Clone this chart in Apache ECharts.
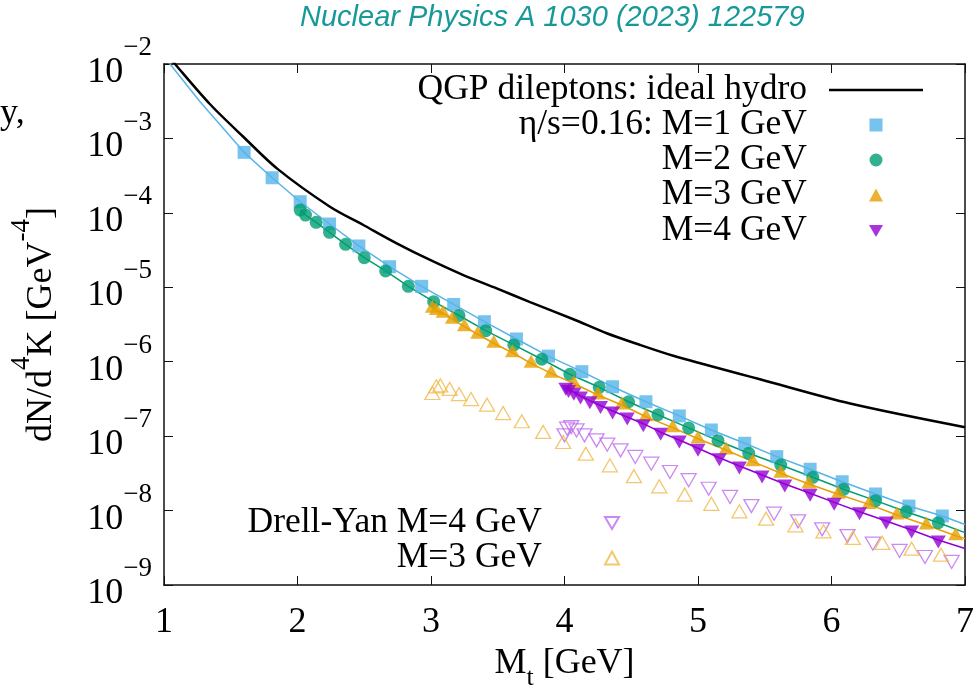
<!DOCTYPE html>
<html><head><meta charset="utf-8">
<script src="https://cdn.jsdelivr.net/npm/echarts@6/dist/echarts.min.js"></script>
<style>html,body{margin:0;padding:0;background:#fff}#c{width:979px;height:693px}</style>
</head><body><div id="c"></div>
<script>
// ---- data ----
const xTickValues = [1, 2, 3, 4, 5, 6, 7];
const yDecades = [-9, -8, -7, -6, -5, -4, -3, -2];

const idealHydro = [[1.0,1.5e-2],[1.082,1.0e-2],[1.345,2.88e-3],[1.59,1.07e-3],[1.85,3.9e-4],[2.243,1.21e-4],[2.493,6.87e-5],[2.743,3.9e-5],[2.993,2.33e-5],[3.242,1.46e-5],[3.492,9.68e-6],[3.742,6.31e-6],[4.066,3.72e-6],[4.316,2.41e-6],[4.566,1.68e-6],[4.815,1.2e-6],[5.065,9.04e-7],[5.315,6.84e-7],[5.464,5.81e-7],[6.14,2.75e-7],[7.0,1.32e-7]];

const visM1 = [[1.60,6.5e-4],[1.81,2.96e-4],[2.02,1.41e-4],[2.24,7.08e-5],[2.46,3.59e-5],[2.69,1.89e-5],[2.93,1.03e-5],[3.17,5.88e-6],[3.40,3.45e-6],[3.64,2.02e-6],[3.88,1.19e-6],[4.13,7.35e-7],[4.36,4.61e-7],[4.61,2.90e-7],[4.86,1.87e-7],[5.10,1.21e-7],[5.35,8.02e-8],[5.59,5.30e-8],[5.84,3.59e-8],[6.08,2.44e-8],[6.33,1.67e-8],[6.58,1.15e-8],[6.83,8.45e-9]];
const visM1Head = [[1.0,1.26e-2],[1.045,1.0e-2],[1.27,3.11e-3]];
const visM1Tail = [[7.0,6.5e-9]];

const visM2 = [[2.02,1.09e-4],[2.06,9.35e-5],[2.14,7.46e-5],[2.24,5.48e-5],[2.36,3.78e-5],[2.50,2.50e-5],[2.66,1.66e-5],[2.83,1.03e-5],[3.02,6.40e-6],[3.21,4.18e-6],[3.41,2.61e-6],[3.62,1.68e-6],[3.83,1.08e-6],[4.04,6.78e-7],[4.26,4.53e-7],[4.48,2.90e-7],[4.70,1.94e-7],[4.93,1.29e-7],[5.15,8.69e-8],[5.38,5.88e-8],[5.62,4.09e-8],[5.86,2.80e-8],[6.09,1.93e-8],[6.33,1.36e-8],[6.56,9.66e-9],[6.80,6.87e-9]];
const visM2Tail = [[7.0,5.05e-9]];

const visM3 = [[3.01,5.22e-6],[3.04,4.88e-6],[3.09,4.48e-6],[3.16,3.72e-6],[3.25,2.96e-6],[3.35,2.34e-6],[3.47,1.77e-6],[3.61,1.32e-6],[3.75,9.52e-7],[3.90,6.98e-7],[4.07,5.09e-7],[4.25,3.57e-7],[4.43,2.62e-7],[4.61,1.82e-7],[4.81,1.30e-7],[5.00,9.21e-8],[5.21,6.52e-8],[5.41,4.54e-8],[5.62,3.17e-8],[5.83,2.28e-8],[6.05,1.66e-8],[6.28,1.21e-8],[6.49,8.73e-9],[6.71,6.40e-9],[6.93,4.59e-9]];
const visM3Tail = [[7.0,4.2e-9]];

const visM4 = [[4.01,4.53e-7],[4.03,4.23e-7],[4.07,3.88e-7],[4.12,3.46e-7],[4.19,2.99e-7],[4.27,2.58e-7],[4.36,2.18e-7],[4.47,1.81e-7],[4.59,1.47e-7],[4.72,1.13e-7],[4.86,8.87e-8],[5.00,6.87e-8],[5.16,5.13e-8],[5.31,3.97e-8],[5.48,3.01e-8],[5.65,2.28e-8],[5.84,1.71e-8],[6.02,1.29e-8],[6.21,9.66e-9],[6.41,7.24e-9],[6.60,5.48e-9],[6.80,4.03e-9]];
const visM4Tail = [[7.0,3.1e-9]];

const dyM4 = [[4.00,1.09e-7],[4.02,1.34e-7],[4.05,1.41e-7],[4.09,1.27e-7],[4.15,1.09e-7],[4.24,9.35e-8],[4.32,8.16e-8],[4.42,6.87e-8],[4.53,5.59e-8],[4.65,4.54e-8],[4.79,3.51e-8],[4.93,2.72e-8],[5.08,2.09e-8],[5.24,1.62e-8],[5.40,1.22e-8],[5.57,9.66e-9],[5.75,7.64e-9],[5.93,5.96e-9],[6.12,4.84e-9],[6.31,3.82e-9],[6.51,3.05e-9],[6.70,2.53e-9],[6.90,2.17e-9]];

const dyM3 = [[3.01,3.57e-7],[3.04,4.39e-7],[3.07,4.51e-7],[3.14,4.05e-7],[3.21,3.46e-7],[3.30,2.96e-7],[3.42,2.49e-7],[3.54,1.92e-7],[3.68,1.49e-7],[3.84,1.07e-7],[3.99,7.84e-8],[4.16,5.46e-8],[4.34,3.81e-8],[4.52,2.72e-8],[4.71,1.99e-8],[4.90,1.54e-8],[5.10,1.16e-8],[5.31,9.18e-9],[5.51,7.31e-9],[5.73,5.96e-9],[5.94,4.95e-9],[6.16,4.03e-9],[6.38,3.45e-9],[6.60,2.89e-9],[6.82,2.40e-9]];

const names = {
  hydro: 'QGP dileptons: ideal hydro',
  m1: 'η/s=0.16: M=1 GeV',
  m2: 'M=2 GeV',
  m3: 'M=3 GeV',
  m4: 'M=4 GeV',
  dy4: 'Drell-Yan M=4 GeV',
  dy3: 'DY M=3 GeV'
};
const legendLabels = { 'DY M=3 GeV': 'M=3 GeV' };

// ---- styling ----
const SERIF = 'Liberation Serif, Times New Roman, serif';
const C1 = '#56b4e9', C2 = '#009e73', C3 = '#e69f00', C4 = '#9400d3';
const CDY4 = '#bd6cec', CDY3 = '#f0b94a';
const downTri = 'path://M0,0L20,0L10,17.3Z';
const LFONT = 35.5;

const chart = echarts.init(document.getElementById('c'));

function lineSeries(name, data, color) {
  return { name: name, type: 'line', data: data, showSymbol: false, symbol: 'none',
    lineStyle: { color: color, width: 1.5 }, itemStyle: { color: color }, z: 2, silent: true };
}
function scatterSeries(name, data, symbol, size, style, offset) {
  return { name: name, type: 'scatter', data: data, symbol: symbol, symbolSize: size,
    symbolOffset: offset || [0, 0], itemStyle: style, z: 3, silent: true };
}

// one legend row: icon box centred at iconCx, row centred at centerY, text ending at textEnd
function rowLegend(item, iconCx, iconW, iconH, centerY, textEnd) {
  const iconRight = iconCx + iconW / 2;
  const gap = (iconCx - iconW / 2) - textEnd - 5;
  return {
    data: [item], right: 979 - iconRight, top: centerY - 18, orient: 'horizontal', align: 'right',
    padding: 0, itemWidth: iconW, itemHeight: iconH, selectedMode: false,
    formatter: n => legendLabels[n] || n,
    textStyle: { fontFamily: SERIF, fontSize: LFONT, lineHeight: 36, color: '#000', padding: [0, gap, 0, 0] }
  };
}

const supRich = {
  b: { fontFamily: SERIF, fontSize: 36, lineHeight: 56, verticalAlign: 'bottom', color: '#000' },
  s: { fontFamily: SERIF, fontSize: 27, lineHeight: 28, verticalAlign: 'top', color: '#000' }
};

const option = {
  animation: false,
  backgroundColor: '#fff',
  title: {
    text: 'Nuclear Physics A 1030 (2023) 122579', left: 300, top: 3, padding: 0,
    textStyle: { fontFamily: 'Liberation Sans, Arial, sans-serif', fontStyle: 'italic', fontWeight: 'normal', fontSize: 29, color: '#17999a' }
  },
  graphic: [{ type: 'text', left: 0, top: 96, style: { text: 'y,', font: '36px ' + SERIF, fill: '#000' } }],
  legend: [
    rowLegend({ name: names.hydro, icon: 'rect' }, 876, 94, 2.5, 90, 807),
    rowLegend(names.m1, 876, 13, 13, 125, 807),
    rowLegend(names.m2, 876, 13, 13, 160, 807),
    rowLegend(names.m3, 876, 14, 13, 195, 807),
    rowLegend(names.m4, 876, 14, 13, 231, 807),
    rowLegend(names.dy4, 613, 14, 13, 523, 543),
    rowLegend(names.dy3, 613, 14, 13, 558, 543)
  ],
  grid: { left: 164, right: 14, top: 64, bottom: 108, outerBoundsMode: 'none', containLabel: false },
  xAxis: [{
    type: 'value', min: 1, max: 7, interval: 1, position: 'bottom',
    name: '{n|M}{sub|t}{n| [GeV]}{g|\u200b}', nameLocation: 'middle', nameGap: 59,
    nameTextStyle: { rich: {
      n: { fontFamily: SERIF, fontSize: 36, lineHeight: 36, verticalAlign: 'top', color: '#000' },
      sub: { fontFamily: SERIF, fontSize: 26, lineHeight: 26, verticalAlign: 'bottom', color: '#000' },
      g: { fontFamily: SERIF, fontSize: 10, lineHeight: 45, verticalAlign: 'top', color: '#000' }
    } },
    axisLine: { lineStyle: { color: '#111', width: 1.5 } },
    axisTick: { inside: true, length: 9, lineStyle: { color: '#111', width: 1 } },
    axisLabel: { margin: 20, fontFamily: SERIF, fontSize: 36, color: '#000',
      formatter: v => xTickValues.indexOf(v) >= 0 ? String(v) : '' },
    splitLine: { show: false }
  }, {
    type: 'value', min: 1, max: 7, interval: 1, position: 'top',
    axisLine: { lineStyle: { color: '#111', width: 1.5 } },
    axisTick: { inside: true, length: 9, lineStyle: { color: '#111', width: 1 } },
    axisLabel: { show: false }, splitLine: { show: false }
  }],
  yAxis: [{
    type: 'log', logBase: 10, min: 1e-9, max: 1e-2, splitNumber: 7, position: 'left',
    name: '{n|dN/d}{s|4}{n|K [GeV}{s|-4}{n|]}', nameLocation: 'middle', nameGap: 104, nameRotate: 90,
    nameTextStyle: { rich: {
      n: { fontFamily: SERIF, fontSize: 36, lineHeight: 52, verticalAlign: 'bottom', color: '#000' },
      s: { fontFamily: SERIF, fontSize: 27, lineHeight: 27, verticalAlign: 'top', color: '#000' }
    } },
    axisLine: { show: true, lineStyle: { color: '#111', width: 1.5 } },
    axisTick: { show: true, inside: true, length: 9, lineStyle: { color: '#111', width: 1 } },
    minorTick: { show: false },
    axisLabel: { margin: 12, padding: [0, 0, 3, 0], rich: supRich,
      formatter: v => { const e = Math.round(Math.log10(v)); return yDecades.indexOf(e) >= 0 ? '{b|10}{s|\u2212' + Math.abs(e) + '}' : ''; } },
    splitLine: { show: false }
  }, {
    type: 'log', logBase: 10, min: 1e-9, max: 1e-2, splitNumber: 7, position: 'right',
    axisLine: { show: true, lineStyle: { color: '#111', width: 1.5 } },
    axisTick: { show: true, inside: true, length: 9, lineStyle: { color: '#111', width: 1 } },
    axisLabel: { show: false }, splitLine: { show: false }
  }],
  series: [
    { name: names.hydro, type: 'line', data: idealHydro, smooth: 0.3, showSymbol: false, symbol: 'none',
      lineStyle: { color: '#000', width: 2.5 }, itemStyle: { color: '#000' }, z: 4, silent: true },
    lineSeries('_l1', visM1Head.concat(visM1, visM1Tail), C1),
    lineSeries('_l2', visM2.concat(visM2Tail), C2),
    lineSeries('_l3', visM3.concat(visM3Tail), C3),
    lineSeries('_l4', visM4.concat(visM4Tail), C4),
    scatterSeries(names.m1, visM1, 'rect', 13, { color: C1 }),
    scatterSeries(names.m2, visM2, 'circle', 13, { color: C2 }),
    scatterSeries(names.m3, visM3, 'triangle', [15, 13], { color: C3 }, [0, -2]),
    scatterSeries(names.m4, visM4, downTri, [15, 13], { color: C4 }, [0, 2]),
    scatterSeries(names.dy4, dyM4, downTri, [15, 13], { color: 'rgba(0,0,0,0)', borderColor: CDY4, borderWidth: 1.3 }, [0, 2]),
    scatterSeries(names.dy3, dyM3, 'triangle', [15, 13], { color: 'rgba(0,0,0,0)', borderColor: CDY3, borderWidth: 1.3 }, [0, -2])
  ]
};
chart.setOption(option);
</script>
</body></html>
